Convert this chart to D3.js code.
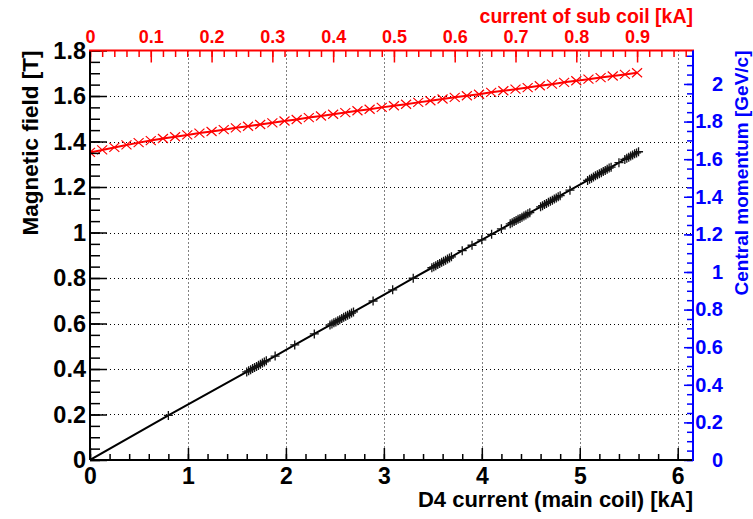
<!DOCTYPE html>
<html>
<head>
<meta charset="utf-8">
<script src="https://cdn.jsdelivr.net/npm/d3@7"></script>
<style>
  html, body { margin: 0; padding: 0; background: #fff; }
  svg { display: block; font-family: "Liberation Sans", Arial, Helvetica, sans-serif; font-weight: bold; }
</style>
</head>
<body>
<svg id="chart" width="753" height="519"></svg>
<script>
// D4 magnet excitation: main-coil current [kA] vs magnetic field [T]
const mainCurrent = [
  0, 0.80,
  1.60, 1.62, 1.64, 1.66, 1.68, 1.70, 1.72, 1.74, 1.76, 1.78, 1.80,
  1.89, 2.09, 2.29,
  2.45, 2.47, 2.49, 2.51, 2.53, 2.55, 2.57, 2.59, 2.61, 2.63, 2.65, 2.67, 2.69,
  2.89, 3.09, 3.30,
  3.49, 3.51, 3.53, 3.55, 3.57, 3.59, 3.61, 3.63, 3.65, 3.67, 3.69,
  3.80, 3.90, 4.00, 4.10, 4.20,
  4.29, 4.31, 4.33, 4.35, 4.37, 4.39, 4.41, 4.43, 4.45, 4.47, 4.49,
  4.60, 4.62, 4.64, 4.66, 4.68, 4.70, 4.72, 4.74, 4.76, 4.78, 4.80,
  4.90,
  5.08, 5.10, 5.12, 5.14, 5.16, 5.18, 5.20, 5.22, 5.24, 5.26, 5.28, 5.30, 5.32,
  5.40,
  5.46, 5.48, 5.50, 5.52, 5.54, 5.56, 5.58, 5.60
];
const mainField = [
  0, 0.196,
  0.387, 0.392, 0.397, 0.402, 0.407, 0.411, 0.416, 0.421, 0.426, 0.431, 0.436,
  0.457, 0.506, 0.554,
  0.593, 0.598, 0.603, 0.607, 0.612, 0.617, 0.622, 0.627, 0.632, 0.636, 0.641, 0.646, 0.651,
  0.699, 0.748, 0.799,
  0.845, 0.849, 0.854, 0.859, 0.864, 0.869, 0.874, 0.878, 0.883, 0.888, 0.893,
  0.920, 0.944, 0.968, 0.992, 1.016,
  1.038, 1.043, 1.048, 1.053, 1.058, 1.062, 1.067, 1.072, 1.077, 1.082, 1.087,
  1.113, 1.118, 1.123, 1.128, 1.133, 1.137, 1.142, 1.147, 1.152, 1.157, 1.162,
  1.186,
  1.229, 1.234, 1.239, 1.244, 1.249, 1.254, 1.258, 1.263, 1.268, 1.273, 1.278, 1.283, 1.287,
  1.307,
  1.321, 1.326, 1.331, 1.336, 1.341, 1.346, 1.350, 1.355
];

// Sub-coil current [kA] vs magnetic field [T]
const subCurrent = [
  0.00, 0.02, 0.04, 0.06, 0.08, 0.10, 0.12, 0.14, 0.16, 0.18,
  0.20, 0.22, 0.24, 0.26, 0.28, 0.30, 0.32, 0.34, 0.36, 0.38,
  0.40, 0.42, 0.44, 0.46, 0.48, 0.50, 0.52, 0.54, 0.56, 0.58,
  0.60, 0.62, 0.64, 0.66, 0.68, 0.70, 0.72, 0.74, 0.76, 0.78,
  0.80, 0.82, 0.84, 0.86, 0.88, 0.90
];
const subField = [
  1.352, 1.363, 1.374, 1.385, 1.395, 1.404, 1.413, 1.421, 1.429, 1.437,
  1.444, 1.452, 1.460, 1.467, 1.475, 1.482, 1.490, 1.497, 1.505, 1.512,
  1.520, 1.527, 1.535, 1.542, 1.550, 1.557, 1.564, 1.572, 1.579, 1.587,
  1.594, 1.601, 1.608, 1.616, 1.623, 1.630, 1.637, 1.645, 1.652, 1.660,
  1.667, 1.674, 1.681, 1.688, 1.695, 1.702
];

// Axis ticks
const mainTicks = [0, 1, 2, 3, 4, 5, 6];
const fieldTicks = [0, 0.2, 0.4, 0.6, 0.8, 1, 1.2, 1.4, 1.6, 1.8];
const subTicks = [0, 0.1, 0.2, 0.3, 0.4, 0.5, 0.6, 0.7, 0.8, 0.9];
const momentumTicks = [0, 0.2, 0.4, 0.6, 0.8, 1, 1.2, 1.4, 1.6, 1.8, 2];

const fmt = v => (v === 0 ? "0" : d3.format("~g")(v));
const range = (a, b, s) => d3.range(Math.round((b - a) / s) + 1).map(i => +(a + i * s).toFixed(4));

const L = 90, R = 693, T = 50.5, B = 460;
const x = d3.scaleLinear().domain([0, 6.156]).range([L, R]);
const xTop = d3.scaleLinear().domain([0, 0.992]).range([L, R]);
const y = d3.scaleLinear().domain([0, 1.8]).range([B, T]);
const yRight = d3.scaleLinear().domain([0, 2.178]).range([B, T]);

const svg = d3.select("#chart");

svg.append("defs").append("clipPath").attr("id", "plot-clip")
  .append("rect").attr("x", L).attr("y", T).attr("width", R - L).attr("height", B - T);

// Dotted grid
const grid = svg.append("g").attr("stroke", "#000").attr("stroke-width", 1)
  .attr("stroke-dasharray", "1,3");
grid.selectAll("line.v").data(mainTicks.filter(d => d > 0)).join("line")
  .attr("x1", d => Math.round(x(d)) + 0.5).attr("x2", d => Math.round(x(d)) + 0.5)
  .attr("y1", T).attr("y2", B);
grid.selectAll("line.h").data(fieldTicks.filter(d => d > 0 && d < 1.8)).join("line")
  .attr("x1", L).attr("x2", R)
  .attr("y1", d => Math.round(y(d)) + 0.5).attr("y2", d => Math.round(y(d)) + 0.5);

const plot = svg.append("g").attr("clip-path", "url(#plot-clip)");

// Main coil series
const mainPts = mainCurrent.map((c, i) => [c, mainField[i]]);
plot.append("path").datum(mainPts)
  .attr("fill", "none").attr("stroke", "#000").attr("stroke-width", 2)
  .attr("d", d3.line().x(d => x(d[0])).y(d => y(d[1])));
plot.append("g").selectAll("path").data(mainPts).join("path")
  .attr("transform", d => `translate(${x(d[0])},${y(d[1])})`)
  .attr("d", "M-4.5,0H4.5M0,-4.5V4.5")
  .attr("stroke", "#111").attr("stroke-width", 1.3).attr("fill", "none");

// Sub coil series
const subPts = subCurrent.map((c, i) => [c, subField[i]]);
plot.append("path").datum(subPts)
  .attr("fill", "none").attr("stroke", "#ff0000").attr("stroke-width", 2)
  .attr("d", d3.line().x(d => xTop(d[0])).y(d => y(d[1])));
plot.append("g").selectAll("path").data(subPts).join("path")
  .attr("transform", d => `translate(${xTop(d[0])},${y(d[1])})`)
  .attr("d", "M-5,-4.5L5,4.5M-5,4.5L5,-4.5")
  .attr("stroke", "#ff0000").attr("stroke-width", 1.2).attr("fill", "none");

function styleAxis(g, color, size) {
  g.select(".domain").remove();
  g.selectAll(".tick line").attr("stroke", color).attr("stroke-width", 1.5);
  g.selectAll(".tick text").attr("fill", color).attr("font-size", size)
    .attr("font-family", null).attr("font-weight", "bold");
  g.attr("font-family", null);
}

// Bottom axis (main coil current)
const gB = svg.append("g").attr("transform", `translate(0,${B})`);
gB.append("g").call(d3.axisBottom(x).tickValues(range(0, 6.1, 0.2)).tickSize(-6).tickFormat(""))
  .call(g => styleAxis(g, "#000", 23));
gB.append("g").call(d3.axisBottom(x).tickValues(mainTicks).tickSize(-12).tickPadding(8).tickFormat(fmt))
  .call(g => styleAxis(g, "#000", 23));

// Left axis (magnetic field)
const gL = svg.append("g").attr("transform", `translate(${L},0)`);
gL.append("g").call(d3.axisLeft(y).tickValues(range(0, 1.8, 0.05)).tickSize(-10).tickFormat(""))
  .call(g => styleAxis(g, "#000", 23.5));
gL.append("g").call(d3.axisLeft(y).tickValues(fieldTicks).tickSize(-17).tickPadding(4).tickFormat(fmt))
  .call(g => styleAxis(g, "#000", 23.5));

// Top axis (sub coil current)
const gT = svg.append("g").attr("transform", `translate(0,${T})`);
gT.append("g").call(d3.axisTop(xTop).tickValues(range(0, 0.98, 0.02)).tickSize(-6.5).tickFormat(""))
  .call(g => styleAxis(g, "#ff0000", 18));
gT.append("g").call(d3.axisTop(xTop).tickValues(subTicks).tickSize(-12).tickPadding(8).tickFormat(fmt))
  .call(g => styleAxis(g, "#ff0000", 18));

// Right axis (central momentum)
const gR = svg.append("g").attr("transform", `translate(${R},0)`);
gR.append("g").call(d3.axisRight(yRight).tickValues(range(0, 2.15, 0.05)).tickSize(-6).tickFormat(""))
  .call(g => styleAxis(g, "#0000ff", 20));
gR.append("g").call(d3.axisRight(yRight).tickValues(momentumTicks).tickSize(-9).tickPadding(30).tickFormat(fmt))
  .call(g => styleAxis(g, "#0000ff", 20))
  .call(g => g.selectAll(".tick text").attr("text-anchor", "end"));

// Axis lines
svg.append("line").attr("x1", L).attr("x2", R).attr("y1", B).attr("y2", B)
  .attr("stroke", "#000").attr("stroke-width", 2);
svg.append("line").attr("x1", L).attr("x2", L).attr("y1", T).attr("y2", B)
  .attr("stroke", "#000").attr("stroke-width", 2);
svg.append("line").attr("x1", L - 1).attr("x2", R + 1).attr("y1", T).attr("y2", T)
  .attr("stroke", "#ff0000").attr("stroke-width", 2);
svg.append("line").attr("x1", R).attr("x2", R).attr("y1", T).attr("y2", B + 1)
  .attr("stroke", "#0000ff").attr("stroke-width", 2);

// Axis titles
svg.append("text").attr("x", R).attr("y", 507).attr("text-anchor", "end")
  .attr("font-size", 22).attr("fill", "#000").text("D4 current (main coil) [kA]");
svg.append("text").attr("transform", `translate(38,${T}) rotate(-90)`).attr("text-anchor", "end")
  .attr("font-size", 22.5).attr("fill", "#000").text("Magnetic field [T]");
svg.append("text").attr("x", R).attr("y", 23).attr("text-anchor", "end")
  .attr("font-size", 19.5).attr("fill", "#ff0000").text("current of sub coil [kA]");
svg.append("text").attr("transform", `translate(748,${T}) rotate(-90)`).attr("text-anchor", "end")
  .attr("font-size", 19).attr("fill", "#0000ff").text("Central momentum [GeV/c]");
</script>
</body>
</html>
